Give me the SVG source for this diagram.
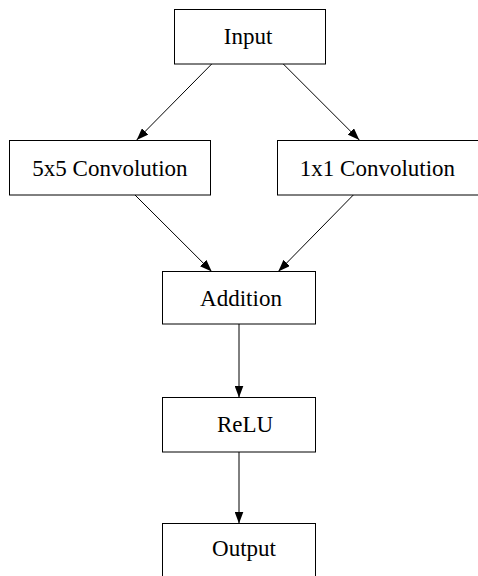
<svg xmlns="http://www.w3.org/2000/svg" width="478" height="576" viewBox="0 0 478 576">
<style>
.box{fill:#fff;stroke:#000;stroke-width:1}
.lbl{font-family:"Liberation Serif","Times New Roman",serif;font-size:23px;fill:#000;text-anchor:middle}
.edge{stroke:#000;stroke-width:1;fill:none;marker-end:url(#ah)}
</style>
<defs>
<marker id="ah" markerUnits="userSpaceOnUse" markerWidth="12" markerHeight="9" refX="12" refY="4.5" orient="auto">
<path d="M0,0 L12,4.5 L0,9 z" fill="#000"/>
</marker>
</defs>
<rect width="478" height="576" fill="#fff"/>
<g id="connectors">
<line class="edge" x1="211.7" y1="64" x2="136.7" y2="140"/>
<line class="edge" x1="283.3" y1="64" x2="359.3" y2="140"/>
<line class="edge" x1="135" y1="195" x2="211.7" y2="271.5"/>
<line class="edge" x1="353.3" y1="195" x2="278.3" y2="271.5"/>
<line class="edge" x1="239" y1="324" x2="239" y2="397.5"/>
<line class="edge" x1="239" y1="452" x2="239" y2="523.5"/>
</g>
<g id="input"><rect class="box" x="174.5" y="9.5" width="151" height="54.5"/><text class="lbl" x="248" y="44">Input</text></g>
<g id="conv5"><rect class="box" x="9.5" y="140.5" width="201" height="54.5"/><text class="lbl" x="110" y="175.5">5x5 Convolution</text></g>
<g id="conv1"><rect class="box" x="277.5" y="140.5" width="201" height="54.5"/><text class="lbl" x="377.5" y="175.5">1x1 Convolution</text></g>
<g id="addition"><rect class="box" x="162.5" y="271.5" width="153" height="52.5"/><text class="lbl" x="241" y="306">Addition</text></g>
<g id="relu"><rect class="box" x="162.5" y="397.5" width="153" height="54.5"/><text class="lbl" x="245" y="432">ReLU</text></g>
<g id="output"><rect class="box" x="162.5" y="523.5" width="153" height="60"/><text class="lbl" x="244" y="556">Output</text></g>
</svg>
